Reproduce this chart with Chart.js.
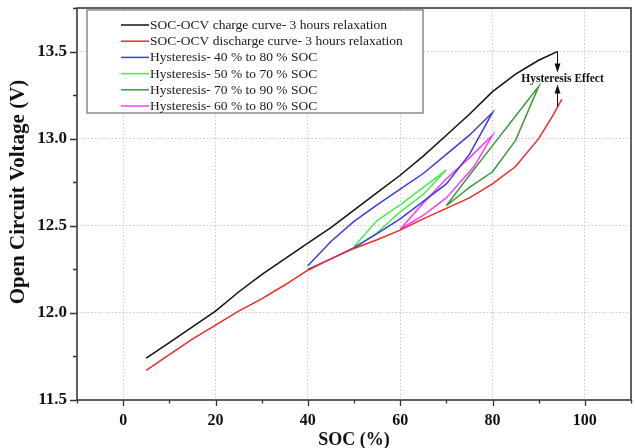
<!DOCTYPE html>
<html><head><meta charset="utf-8">
<script src="https://cdn.jsdelivr.net/npm/chart.js@4/dist/chart.umd.min.js"></script>
<style>html,body{margin:0;padding:0;background:#fff}</style>
</head><body>
<canvas id="c" width="635" height="448"></canvas>
<script>
// ---- data ----
const xTickLabels = ['0','20','40','60','80','100'];
const yTickLabels = ['11.5','12.0','12.5','13.0','13.5'];
const xAxisTitle = 'SOC (%)';
const yAxisTitle = 'Open Circuit Voltage (V)';
const seriesLabels = [
  'SOC-OCV charge curve- 3 hours relaxation',
  'SOC-OCV discharge curve- 3 hours relaxation',
  'Hysteresis- 40 % to 80 % SOC',
  'Hysteresis- 50 % to 70 % SOC',
  'Hysteresis- 70 % to 90 % SOC',
  'Hysteresis- 60 % to 80 % SOC'
];
const seriesColors = ['#111111','#ec2a2a','#3c3cdc','#46ee46','#3a9a3a','#ff3cff'];

const socCharge = [5,10,15,20,25,30,35,40,45,50,55,60,65,70,75,80,85,90,94];
const ocvCharge = [11.74,11.83,11.92,12.01,12.12,12.22,12.31,12.40,12.49,12.59,12.69,12.79,12.90,13.02,13.14,13.27,13.37,13.45,13.50];

const socDischarge = [5,10,15,20,25,30,35,40,45,50,55,60,65,70,75,80,85,90,93,95];
const ocvDischarge = [11.67,11.76,11.85,11.93,12.01,12.08,12.16,12.245,12.31,12.37,12.42,12.475,12.54,12.60,12.66,12.74,12.84,13.00,13.13,13.225];

const soc40to80 = [40,45,50,55,60,65,70,75,80,75,70,65,60,55,50,45,40];
const ocv40to80 = [12.27,12.41,12.525,12.62,12.71,12.80,12.91,13.02,13.15,12.91,12.74,12.64,12.54,12.455,12.375,12.31,12.25];

const soc50to70 = [50,55,60,65,70,65,60,55,50];
const ocv50to70 = [12.38,12.53,12.62,12.72,12.82,12.68,12.58,12.46,12.37];

const soc70to90 = [70,75,80,85,90,85,80,75,70];
const ocv70to90 = [12.615,12.79,12.96,13.13,13.30,12.99,12.81,12.72,12.615];

const soc60to80 = [60,65,70,75,80,76,70,65,60];
const ocv60to80 = [12.48,12.63,12.77,12.89,13.02,12.84,12.66,12.56,12.48];

const annotationText = 'Hysteresis Effect';
const annotationSoc = 94;
const annotationTop = 13.5;
const annotationBottom = 13.225;

// ---- build ----
function mk(i, xs, ys){
  return { label: seriesLabels[i], data: xs.map((x,k)=>({x:x, y:ys[k]})),
    borderColor: seriesColors[i], backgroundColor: seriesColors[i],
    borderWidth: 1.5, pointRadius: 0, tension: 0, fill: false };
}
const datasets = [
  mk(0, socCharge, ocvCharge),
  mk(1, socDischarge, ocvDischarge),
  mk(2, soc40to80, ocv40to80),
  mk(3, soc50to70, ocv50to70),
  mk(4, soc70to90, ocv70to90),
  mk(5, soc60to80, ocv60to80)
];

const SERIF = '"Liberation Serif", "Times New Roman", serif';
function yLab(v){ const s = (Math.abs(v*2-Math.round(v*2))<1e-6) ? v.toFixed(1) : ''; return yTickLabels.includes(s) ? s : ''; }
function xLab(v){ const s = String(Math.round(v)); return (Math.abs(v-Math.round(v))<1e-6 && xTickLabels.includes(s)) ? s : ''; }

const decor = {
  id: 'decor',
  afterDraw(chart){
    const ctx = chart.ctx, a = chart.chartArea;
    const xs = chart.scales.x, ys = chart.scales.y;
    ctx.save();
    // ticks
    ctx.strokeStyle = '#333'; ctx.lineWidth = 1.3;
    ctx.beginPath();
    xs.ticks.forEach(t=>{
      const px = Math.round(xs.getPixelForValue(t.value))+0.5;
      const len = xLab(t.value) ? 6 : 3.5;
      ctx.moveTo(px, a.bottom); ctx.lineTo(px, a.bottom+len);
    });
    ys.ticks.forEach(t=>{
      const py = Math.round(ys.getPixelForValue(t.value))+0.5;
      const len = yLab(t.value) ? 7 : 4;
      ctx.moveTo(a.left, py); ctx.lineTo(a.left-len, py);
    });
    ctx.stroke();
    // frame
    ctx.strokeStyle = '#3a3a3a'; ctx.lineWidth = 1.6;
    ctx.strokeRect(a.left, a.top, a.right-a.left, a.bottom-a.top);

    // y axis title
    ctx.save();
    ctx.translate(19, 192);
    ctx.rotate(-Math.PI/2);
    ctx.font = 'bold 21px ' + SERIF; ctx.fillStyle = '#111';
    ctx.textAlign = 'center'; ctx.textBaseline = 'middle';
    ctx.fillText(yAxisTitle, 0, 0);
    ctx.restore();

    // legend
    const lx = 87, ly = 10, lw = 336, lh = 103;
    ctx.fillStyle = '#fff'; ctx.fillRect(lx, ly, lw, lh);
    ctx.strokeStyle = '#8a8a8a'; ctx.lineWidth = 1.5;
    ctx.strokeRect(lx, ly, lw, lh);
    ctx.font = '13.5px ' + SERIF; ctx.textBaseline = 'middle'; ctx.textAlign = 'left';
    chart.data.datasets.forEach((d,i)=>{
      const y = 25 + i*16.2;
      ctx.strokeStyle = d.borderColor; ctx.lineWidth = 1.5;
      ctx.beginPath(); ctx.moveTo(121, y); ctx.lineTo(149, y); ctx.stroke();
      ctx.fillStyle = '#1a1a1a';
      ctx.fillText(d.label, 150, y+0.5);
    });

    // annotation
    const ax = Math.round(xs.getPixelForValue(annotationSoc))+0.5;
    const yT = ys.getPixelForValue(annotationTop);
    const yB = ys.getPixelForValue(annotationBottom);
    ctx.strokeStyle = '#111'; ctx.fillStyle = '#111'; ctx.lineWidth = 1;
    ctx.beginPath(); ctx.moveTo(ax, yT); ctx.lineTo(ax, yT+13); ctx.stroke();
    ctx.beginPath(); ctx.moveTo(ax-3, yT+12); ctx.lineTo(ax+3, yT+12); ctx.lineTo(ax, yT+21); ctx.closePath(); ctx.fill();
    ctx.beginPath(); ctx.moveTo(ax, yB+7); ctx.lineTo(ax, yB-7); ctx.stroke();
    ctx.beginPath(); ctx.moveTo(ax-3, yB-6); ctx.lineTo(ax+3, yB-6); ctx.lineTo(ax, yB-15); ctx.closePath(); ctx.fill();
    ctx.font = 'bold 11.5px ' + SERIF; ctx.textAlign = 'center';
    ctx.fillText(annotationText, ax+5, yT+27);
    ctx.restore();
  }
};

new Chart(document.getElementById('c'), {
  type: 'line',
  data: { datasets },
  options: {
    responsive: false, animation: false, devicePixelRatio: 1,
    layout: { padding: { top: 8, right: 4, left: 0, bottom: 0 } },
    plugins: { legend: { display: false }, tooltip: { enabled: false } },
    scales: {
      x: {
        type: 'linear', min: -10, max: 110,
        afterFit(s){ s.height = 48; s.paddingLeft = 0; s.paddingRight = 0; },
        ticks: { stepSize: 10, autoSkip: false, maxRotation: 0, padding: 11, color: '#111',
          font: { family: SERIF, size: 16, weight: 'bold' }, callback: v => xLab(v) },
        grid: { drawTicks: false, lineWidth: 1,
          color: c => (c.tick && xLab(c.tick.value)) ? '#c8c8c8' : 'rgba(0,0,0,0)' },
        border: { display: false, dash: [1.5, 2] },
        title: { display: true, text: xAxisTitle, color: '#111', padding: { top: 0, bottom: 0 },
          font: { family: SERIF, size: 18, weight: 'bold', lineHeight: 0.9 } }
      },
      y: {
        type: 'linear', min: 11.5, max: 13.75,
        afterFit(s){ s.width = 77; s.paddingTop = 0; s.paddingBottom = 0; },
        ticks: { stepSize: 0.25, autoSkip: false, padding: 10, color: '#111',
          font: { family: SERIF, size: 17, weight: 'bold' }, callback: v => yLab(v) },
        grid: { drawTicks: false, lineWidth: 1,
          color: c => (c.tick && yLab(c.tick.value) && c.tick.value > 11.6) ? '#c8c8c8' : 'rgba(0,0,0,0)' },
        border: { display: false, dash: [1.5, 2] },
        title: { display: false }
      }
    }
  },
  plugins: [decor]
});
</script>
</body></html>
